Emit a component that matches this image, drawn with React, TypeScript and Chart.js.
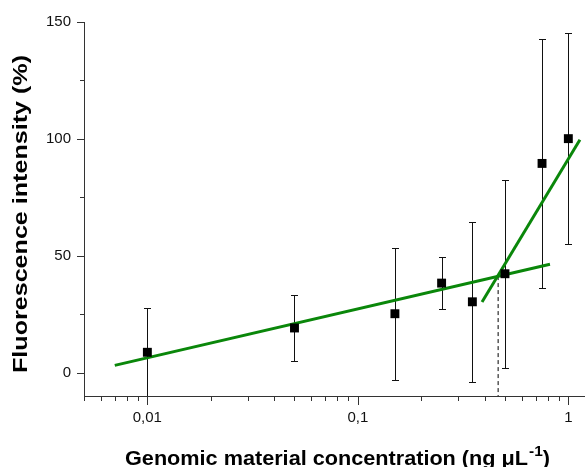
import React, { useEffect, useRef } from 'react';
import { Chart, registerables } from 'chart.js';

Chart.register(...registerables);

// ---- data ----
const concentrations = [0.01, 0.05, 0.15, 0.25, 0.35, 0.5, 0.75, 1];
const intensity = [8.7, 19.1, 25.2, 38.3, 30.3, 42.3, 89.5, 100.1];
const errors = [19, 14.3, 28.3, 11, 34.2, 40.2, 53.4, 45];

const fitLowX = [0.007, 0.818];
const fitLowY = [3.1, 46.4];
const fitHighX = [0.389, 1.135];
const fitHighY = [30.2, 99.6];

const thresholdX = 0.464;
const thresholdY = 41.3;

const xMin = 0.005;
const xMax = 1.2;
const yMin = -10;
const yMax = 150;

const xMajorTicks = [0.01, 0.1, 1];
const xTickLabels = ['0,01', '0,1', '1'];
const xMinorTicks = [
  0.005, 0.006, 0.007, 0.008, 0.009,
  0.02, 0.03, 0.04, 0.05, 0.06, 0.07, 0.08, 0.09,
  0.2, 0.3, 0.4, 0.5, 0.6, 0.7, 0.8, 0.9,
];
const yMajorTicks = [0, 50, 100, 150];
const yTickLabels = ['0', '50', '100', '150'];
const yMinorTicks = [25, 75, 125];

const xTitleMain = 'Genomic material concentration (ng \u03BCL';
const xTitleSup = '-1';
const xTitleEnd = ')';
const yTitle = 'Fluorescence intensity (%)';

const FONT_FAMILY = '"Liberation Sans", Arial, Helvetica, sans-serif';
const AXIS_COLOR = '#333333';
const GREEN = '#0a870a';

function near(a: number, b: number) {
  return Math.abs(a - b) < 1e-9 * Math.max(1, Math.abs(b));
}

const drawPlugin = {
  id: 'customDraw',
  beforeDatasetsDraw(chart: any) {
    const ctx = chart.ctx as CanvasRenderingContext2D;
    const xs = chart.scales.x;
    const ys = chart.scales.y;
    const area = chart.chartArea;
    ctx.save();
    ctx.beginPath();
    ctx.rect(area.left, area.top - 30, area.right - area.left, area.bottom - area.top + 30);
    ctx.clip();
    ctx.strokeStyle = '#111';
    ctx.lineWidth = 1;
    concentrations.forEach((c, i) => {
      const px = Math.round(xs.getPixelForValue(c)) + 0.5;
      const top = Math.round(ys.getPixelForValue(intensity[i] + errors[i])) + 0.5;
      const bot = Math.round(ys.getPixelForValue(intensity[i] - errors[i])) + 0.5;
      ctx.beginPath();
      ctx.moveTo(px, top);
      ctx.lineTo(px, Math.min(bot, area.bottom));
      ctx.moveTo(px - 3.5, top);
      ctx.lineTo(px + 3.5, top);
      if (bot < area.bottom) {
        ctx.moveTo(px - 3.5, bot);
        ctx.lineTo(px + 3.5, bot);
      }
      ctx.stroke();
    });
    ctx.restore();
  },
  afterDraw(chart: any) {
    const ctx = chart.ctx as CanvasRenderingContext2D;
    const xs = chart.scales.x;
    const ys = chart.scales.y;
    const area = chart.chartArea;
    ctx.save();
    ctx.strokeStyle = AXIS_COLOR;
    ctx.lineWidth = 1;
    // x ticks
    ctx.beginPath();
    const bottom = Math.round(area.bottom);
    xMajorTicks.forEach((v) => {
      const px = Math.round(xs.getPixelForValue(v)) + 0.5;
      ctx.moveTo(px, bottom);
      ctx.lineTo(px, bottom + 9);
    });
    xMinorTicks.forEach((v) => {
      const px = Math.round(xs.getPixelForValue(v)) + 0.5;
      ctx.moveTo(px, bottom);
      ctx.lineTo(px, bottom + 5);
    });
    // y ticks
    const left = Math.round(area.left);
    yMajorTicks.forEach((v) => {
      const py = Math.round(ys.getPixelForValue(v)) + 0.5;
      ctx.moveTo(left, py);
      ctx.lineTo(left - 7, py);
    });
    yMinorTicks.forEach((v) => {
      const py = Math.round(ys.getPixelForValue(v)) + 0.5;
      ctx.moveTo(left, py);
      ctx.lineTo(left - 4, py);
    });
    ctx.stroke();

    // x title with superscript
    ctx.fillStyle = '#000';
    ctx.textBaseline = 'alphabetic';
    ctx.textAlign = 'left';
    const mainFont = 'bold 21px ' + FONT_FAMILY;
    const supFont = 'bold 15px ' + FONT_FAMILY;
    ctx.font = mainFont;
    const w1 = ctx.measureText(xTitleMain).width;
    const w3 = ctx.measureText(xTitleEnd).width;
    ctx.font = supFont;
    const w2 = ctx.measureText(xTitleSup).width;
    const total = w1 + w2 + w3 + 1;
    const targetW = 425;
    const k = targetW / total;
    ctx.save();
    ctx.translate(337.5 - targetW / 2, 465);
    ctx.scale(k, 1);
    ctx.font = mainFont;
    ctx.fillText(xTitleMain, 0, 0);
    ctx.font = supFont;
    ctx.fillText(xTitleSup, w1 + 1, -9);
    ctx.font = mainFont;
    ctx.fillText(xTitleEnd, w1 + w2 + 1, 0);
    ctx.restore();

    // y title
    ctx.save();
    ctx.font = mainFont;
    const wy = ctx.measureText(yTitle).width;
    const ky = 318 / wy;
    ctx.translate(27, 214);
    ctx.rotate(-Math.PI / 2);
    ctx.scale(ky, 1);
    ctx.textAlign = 'center';
    ctx.fillText(yTitle, 0, 0);
    ctx.restore();

    ctx.restore();
  },
};

export default function App() {
  const ref = useRef<HTMLCanvasElement>(null);

  useEffect(() => {
    const canvas = ref.current;
    if (!canvas) return;
    const tickFont = { family: FONT_FAMILY, size: 15 };
    const chart = new Chart(canvas, {
      type: 'scatter',
      data: {
        datasets: [
          {
            label: 'Measured',
            data: concentrations.map((x, i) => ({ x, y: intensity[i] })),
            pointStyle: 'rect',
            pointRadius: 6.3,
            pointHoverRadius: 6.3,
            backgroundColor: '#000',
            borderColor: '#000',
            borderWidth: 0,
            showLine: false,
            order: 0,
          },
          {
            label: 'Fit low',
            data: fitLowX.map((x, i) => ({ x, y: fitLowY[i] })),
            showLine: true,
            borderColor: GREEN,
            borderWidth: 3,
            pointRadius: 0,
            order: 1,
          },
          {
            label: 'Fit high',
            data: fitHighX.map((x, i) => ({ x, y: fitHighY[i] })),
            showLine: true,
            borderColor: GREEN,
            borderWidth: 3,
            pointRadius: 0,
            order: 1,
          },
          {
            label: 'Threshold',
            data: [
              { x: thresholdX, y: thresholdY },
              { x: thresholdX, y: yMin },
            ],
            showLine: true,
            borderColor: '#000',
            borderWidth: 1,
            borderDash: [4, 3],
            pointRadius: 0,
            order: 2,
          },
        ],
      },
      options: {
        animation: false,
        responsive: false,
        layout: { autoPadding: false, padding: { top: 22, left: 0, right: 0, bottom: 0 } },
        plugins: {
          legend: { display: false },
          tooltip: { enabled: false },
        },
        scales: {
          x: {
            type: 'logarithmic',
            min: xMin,
            max: xMax,
            afterBuildTicks: (s: any) => {
              s.ticks = xMajorTicks.map((v) => ({ value: v }));
            },
            afterFit: (s: any) => {
              s.height = 71;
              s.paddingLeft = 0;
              s.paddingRight = 0;
            },
            ticks: {
              autoSkip: false,
              maxRotation: 0,
              minRotation: 0,
              padding: 4,
              color: '#111',
              font: tickFont,
              callback: (v: any) => {
                const idx = xMajorTicks.findIndex((t) => near(Number(v), t));
                return idx >= 0 ? xTickLabels[idx] : '';
              },
            },
            grid: {
              display: true,
              drawOnChartArea: false,
              drawTicks: true,
              tickLength: 9,
              color: 'rgba(0,0,0,0)',
            },
            border: { display: true, color: AXIS_COLOR, width: 1 },
          },
          y: {
            type: 'linear',
            min: yMin,
            max: yMax,
            afterBuildTicks: (s: any) => {
              s.ticks = yMajorTicks.map((v) => ({ value: v }));
            },
            afterFit: (s: any) => {
              s.width = 84;
              s.paddingTop = 0;
              s.paddingBottom = 0;
            },
            ticks: {
              autoSkip: false,
              padding: 6,
              color: '#111',
              font: tickFont,
              callback: (v: any) => {
                const idx = yMajorTicks.findIndex((t) => near(Number(v), t));
                return idx >= 0 ? yTickLabels[idx] : '';
              },
            },
            grid: {
              display: true,
              drawOnChartArea: false,
              drawTicks: true,
              tickLength: 7,
              color: 'rgba(0,0,0,0)',
            },
            border: { display: true, color: AXIS_COLOR, width: 1 },
          },
        },
      },
      plugins: [drawPlugin],
    } as any);
    return () => chart.destroy();
  }, []);

  return (
    <div style={{ position: 'fixed', left: 0, top: 0, width: 585, height: 467, background: '#fff' }}>
      <canvas ref={ref} width={585} height={467} style={{ display: 'block' }} />
    </div>
  );
}
